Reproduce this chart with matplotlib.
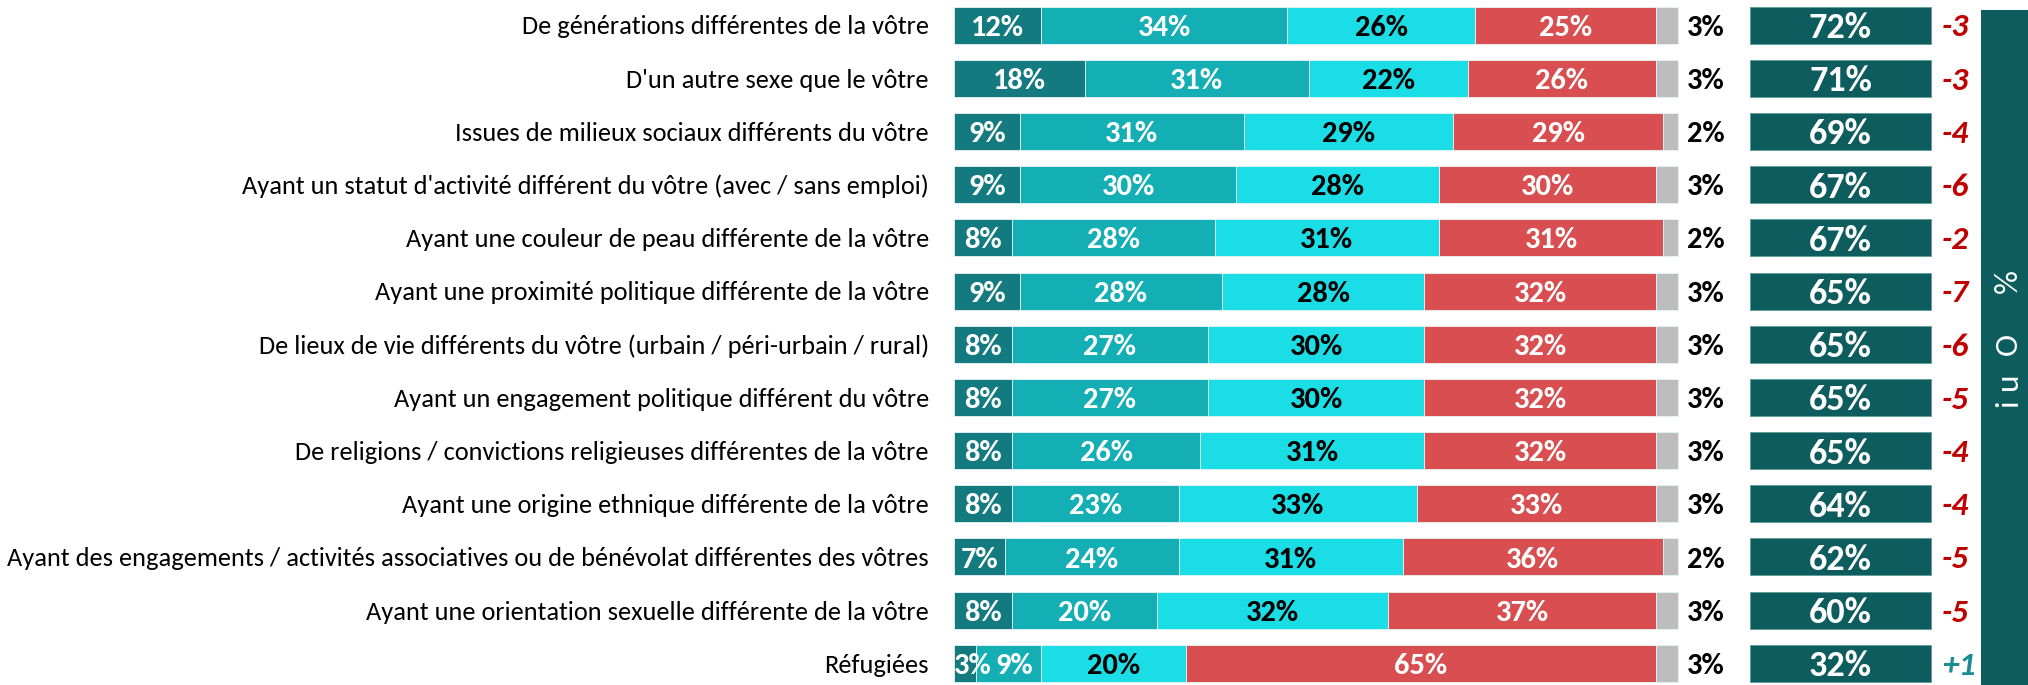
import matplotlib
matplotlib.use("Agg")
import matplotlib.pyplot as plt
from matplotlib import font_manager as fm

available = {f.name for f in fm.fontManager.ttflist}
def pick(*names):
    for n in names:
        if n in available:
            return n
    return "DejaVu Sans"

REG = pick("Carlito", "Liberation Sans Narrow", "Open Sans", "Noto Sans")
BOLDN = pick("Carlito", "Liberation Sans Narrow", "Roboto", "Open Sans")
BOLD = pick("Carlito", "Open Sans", "Noto Sans")

categories = [
    "De générations différentes de la vôtre",
    "D'un autre sexe que le vôtre",
    "Issues de milieux sociaux différents du vôtre",
    "Ayant un statut d'activité différent du vôtre (avec / sans emploi)",
    "Ayant une couleur de peau différente de la vôtre",
    "Ayant une proximité politique différente de la vôtre",
    "De lieux de vie différents du vôtre (urbain / péri-urbain / rural)",
    "Ayant un engagement politique différent du vôtre",
    "De religions / convictions religieuses différentes de la vôtre",
    "Ayant une origine ethnique différente de la vôtre",
    "Ayant des engagements / activités associatives ou de bénévolat différentes des vôtres",
    "Ayant une orientation sexuelle différente de la vôtre",
    "Réfugiées",
]
oui_beaucoup = [12, 18, 9, 9, 8, 9, 8, 8, 8, 8, 7, 8, 3]
oui_assez    = [34, 31, 31, 30, 28, 28, 27, 27, 26, 23, 24, 20, 9]
oui_peu      = [26, 22, 29, 28, 31, 28, 30, 30, 31, 33, 31, 32, 20]
non          = [25, 26, 29, 30, 31, 32, 32, 32, 32, 33, 36, 37, 65]
nsp          = [3, 3, 2, 3, 2, 3, 3, 3, 3, 3, 2, 3, 3]
total_oui    = [72, 71, 69, 67, 67, 65, 65, 65, 65, 64, 62, 60, 32]
evolution    = [-3, -3, -4, -6, -2, -7, -6, -5, -4, -4, -5, -5, 1]
band_label = "% Oui"

series = [oui_beaucoup, oui_assez, oui_peu, non, nsp]
colors = ["#137A80", "#14AEB5", "#1ADDE6", "#D94E50", "#BDBDBD"]
text_colors = ["white", "white", "black", "white", None]
box_color = "#0D5C5E"

W, H = 2028, 685
fig = plt.figure(figsize=(W / 100, H / 100), dpi=100)
ax = fig.add_axes([0, 0, 1, 1])
ax.axis("off")

px_per = (1677.5 - 954.5) / 100.0
x0 = -954.5 / px_per
x1 = (W - 954.5) / px_per
row = 53.2
ytop = -25 / row
ybot = (H - 25) / row
ax.set_xlim(x0, x1)
ax.set_ylim(ybot, ytop)

def px(xpix):
    return (xpix - 954.5) / px_per

n = len(categories)
ys = list(range(n))
bh = 37.0 / row

left = [0.0] * n
prev = [100] * n
for s, (vals, col, tc) in enumerate(zip(series, colors, text_colors)):
    ax.barh(ys, vals, left=left, height=bh, color=col, edgecolor="#E8F4F4", linewidth=0.6)
    if tc is not None:
        for i, v in enumerate(vals):
            xc, ha = left[i] + v / 2, "center"
            if v < 5:
                xc, ha = left[i] - 0.1, "left"
            elif prev[i] < 5:
                xc += 0.8
            ax.text(xc, i, f"{v}%", ha=ha, va="center_baseline",
                    color=tc, fontsize=22, fontweight="bold", family=[BOLDN, "DejaVu Sans"])
    left = [l + v for l, v in zip(left, vals)]
    prev = list(vals)

for i in range(n):
    ax.text(px(929), i, categories[i], ha="right", va="center_baseline",
            fontsize=19, color="black", family=[REG, "DejaVu Sans"])
    ax.text(px(1706), i, f"{nsp[i]}%", ha="center", va="center_baseline",
            fontsize=22, fontweight="bold", color="black", family=[BOLDN, "DejaVu Sans"])

box_l, box_r = px(1750), px(1931)
ax.barh(ys, [box_r - box_l] * n, left=box_l, height=bh, color=box_color,
        edgecolor="#5E9A9C", linewidth=0.6)
for i, t in enumerate(total_oui):
    ax.text((box_l + box_r) / 2, i, f"{t}%", ha="center", va="center_baseline",
            fontsize=26, fontweight="bold", color="white", family=[BOLD, "DejaVu Sans"])
    e = evolution[i]
    txt = f"+{e}" if e > 0 else f"{e}"
    ax.text(px(1942), i, txt, ha="left", va="center_baseline", fontsize=24,
            fontweight="bold", fontstyle="italic",
            color="#1A8C92" if e > 0 else "#C00000", family=[BOLD, "DejaVu Sans"])

band_top = (10 - 25) / row
ax.bar([(px(1985) + x1) / 2], [ybot - band_top], bottom=band_top,
       width=x1 - px(1985) + 1, color=box_color, linewidth=0)
pos = [281, 312, 344, 381, 403]
for ch, yp in zip(band_label, pos):
    if ch.strip():
        ax.text(px(2008), (yp - 25) / row, ch, rotation=90, ha="center", va="center",
                fontsize=24, color="white", family=[BOLD, "DejaVu Sans"])

fig.savefig("out.png", dpi=100)
